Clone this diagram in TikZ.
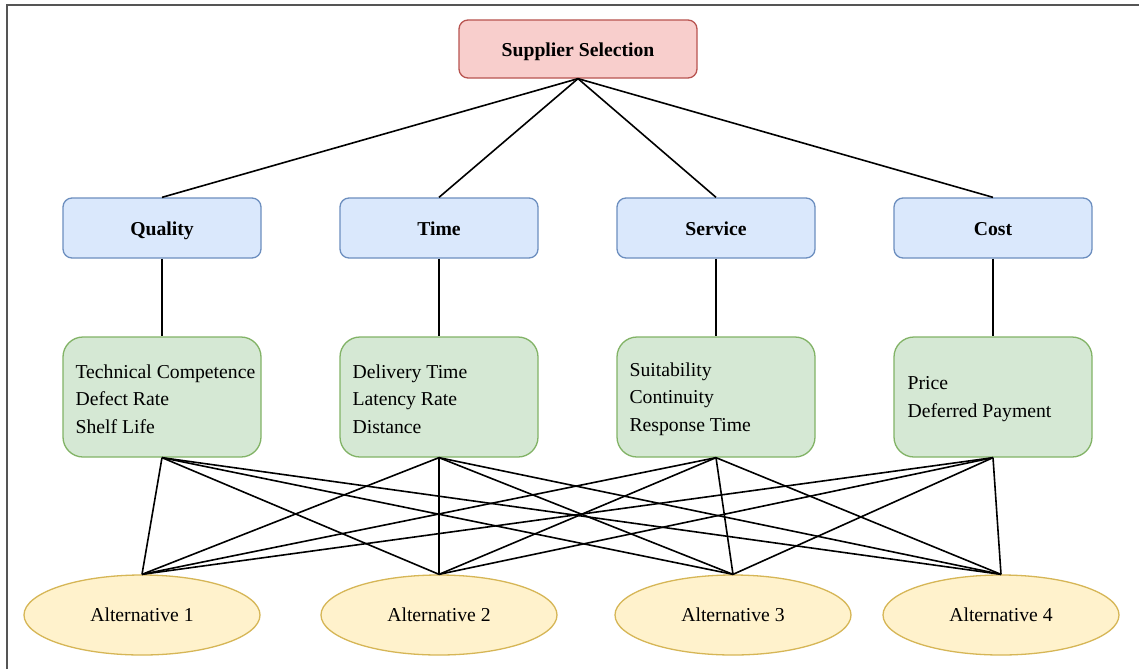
\documentclass[tikz,border=0pt]{standalone}
\usepackage{fontspec}
\setmainfont{Liberation Serif}
\usetikzlibrary{shapes.geometric}
\definecolor{pinkF}{HTML}{F8CECC}\definecolor{pinkD}{HTML}{B85450}
\definecolor{blueF}{HTML}{DAE8FC}\definecolor{blueD}{HTML}{6C8EBF}
\definecolor{greenF}{HTML}{D5E8D4}\definecolor{greenD}{HTML}{82B366}
\definecolor{yelF}{HTML}{FFF2CC}\definecolor{yelD}{HTML}{D6B656}
\definecolor{frameC}{HTML}{555555}
\newcommand{\dfont}{\fontsize{19.7}{27.5}\selectfont}
\tikzset{
  goalbox/.style={draw=pinkD, fill=pinkF, line width=1.3pt, rounded corners=9pt,
    minimum width=238pt, minimum height=58pt, text height=16pt, text depth=0.8pt,
    font=\dfont\bfseries},
  critbox/.style={draw=blueD, fill=blueF, line width=1.3pt, rounded corners=9pt,
    minimum width=198pt, minimum height=60pt, text height=16pt, text depth=0.8pt,
    font=\dfont\bfseries},
  subbox/.style={draw=greenD, fill=greenF, line width=1.3pt, rounded corners=20pt,
    minimum width=198pt, minimum height=120pt},
  subtext/.style={anchor=west, align=left, inner sep=0pt, font=\dfont},
  altnode/.style={ellipse, draw=yelD, fill=yelF, line width=1.3pt,
    minimum width=236pt, minimum height=80pt, inner sep=0pt, font=\dfont},
  link/.style={draw=black, line width=1.6pt}
}
\begin{document}
\begin{tikzpicture}[x=1pt,y=-1pt]
\useasboundingbox (0,0) rectangle (1139,669);
\fill[white] (0,0) rectangle (1139,669);
\draw[frameC, line width=2pt] (7,669) -- (7,5) -- (1139,5);

\node[goalbox] (goal) at (578,49) {Supplier Selection};

\node[critbox] (c1) at (162,228) {Quality};
\node[critbox] (c2) at (439,228) {Time};
\node[critbox] (c3) at (716,228) {Service};
\node[critbox] (c4) at (993,228) {Cost};

\node[subbox] (s1) at (162,397) {};
\node[subbox] (s2) at (439,397) {};
\node[subbox] (s3) at (716,397) {};
\node[subbox] (s4) at (993,397) {};
\node[subtext] (t1) at ([xshift=13pt,yshift=-2pt]s1.west) {Technical Competence\\Defect Rate\\Shelf Life};
\node[subtext] (t2) at ([xshift=13pt,yshift=-2pt]s2.west) {Delivery Time\\Latency Rate\\Distance};
\node[subtext] (t3) at ([xshift=13pt,yshift=-2pt]s3.west) {Suitability\\Continuity\\Response Time};
\node[subtext] (t4) at ([xshift=14pt,yshift=-2pt]s4.west) {Price\\Deferred Payment};

\node[altnode] (a1) at (142,615) {Alternative 1};
\node[altnode] (a2) at (439,615) {Alternative 2};
\node[altnode] (a3) at (733,615) {Alternative 3};
\node[altnode] (a4) at (1001,615) {Alternative 4};

\foreach \c in {c1,c2,c3,c4} \draw[link] (goal.south) -- (\c.north);
\foreach \i in {1,2,3,4} \draw[link] (c\i.south) -- (s\i.north);
\foreach \s in {s1,s2,s3,s4}
  \foreach \a in {a1,a2,a3,a4}
    \draw[link] (\s.south) -- (\a.north);
\end{tikzpicture}
\end{document}
